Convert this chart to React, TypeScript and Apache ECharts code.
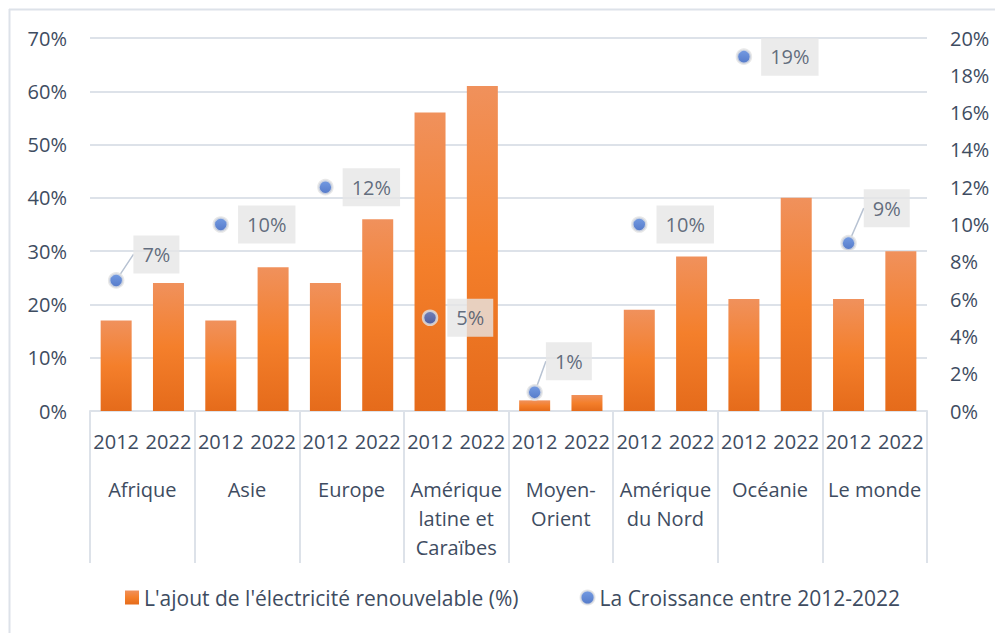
import React, { useEffect, useRef } from "react";
import * as echarts from "echarts";

const regions = [
  "Afrique",
  "Asie",
  "Europe",
  "Amérique\nlatine et\nCaraïbes",
  "Moyen-\nOrient",
  "Amérique\ndu Nord",
  "Océanie",
  "Le monde",
];
const years = ["2012", "2022"];
const share2012 = [17, 17, 24, 56, 2, 19, 21, 21];
const share2022 = [24, 27, 36, 61, 3, 29, 40, 30];
const growth = [7, 10, 12, 5, 1, 10, 19, 9];
const leftTicks = { min: 0, max: 70, interval: 10 };
const rightTicks = { min: 0, max: 20, interval: 2 };
const barName = "L'ajout de l'électricité renouvelable (%)";
const dotName = "La Croissance entre 2012-2022";

// label offsets (style only) for labels with leader lines
const labelShift: Record<number, [number, number]> = {
  0: [0, -26],
  4: [-6, -31],
  7: [-2, -35],
};

const TEXT = "#3e4c61";
const FONT = "Open Sans";
const GRID = "#dde2e9";

export default function App() {
  const ref = useRef<HTMLDivElement>(null);
  useEffect(() => {
    if (!ref.current) return;
    const chart = echarts.init(ref.current, undefined, { renderer: "svg" });

    const cats: string[] = [];
    const barVals: number[] = [];
    regions.forEach((r, i) => {
      cats.push(r + "|" + years[0]);
      barVals.push(share2012[i]);
      cats.push(r + "|" + years[1]);
      barVals.push(share2022[i]);
    });
    const dotData = growth.map((g, i) => {
      const item: any = { value: [i * 2, g] };
      if (labelShift[i]) item.labelLine = { show: true };
      return item;
    });

    const barColor = new echarts.graphic.LinearGradient(0, 0, 0, 1, [
      { offset: 0, color: "#f0915c" },
      { offset: 0.5, color: "#f47f2b" },
      { offset: 1, color: "#e56b1b" },
    ]);
    const dotColor = new echarts.graphic.LinearGradient(0, 0, 0, 1, [
      { offset: 0, color: "#5283dc" },
      { offset: 1, color: "#2a58bb" },
    ]);

    chart.setOption({
      animation: false,
      textStyle: { fontFamily: FONT },
      graphic: [
        {
          type: "line",
          shape: { x1: 9.5, y1: 9, x2: 9.5, y2: 640 },
          style: { stroke: "#dde2e9", lineWidth: 2 },
        },
        {
          type: "line",
          shape: { x1: 9, y1: 9.5, x2: 1000, y2: 9.5 },
          style: { stroke: "#dde2e9", lineWidth: 2 },
        },
      ],
      grid: { left: 90, right: 68, top: 38, bottom: 222 },
      legend: {
        bottom: 20,
        left: 120,
        itemGap: 61,
        itemWidth: 14,
        itemHeight: 14,
        textStyle: { color: TEXT, fontSize: 21, fontFamily: FONT },
        data: [
          { name: barName, icon: "rect" },
          { name: dotName, icon: "circle" },
        ],
      },
      xAxis: [
        {
          type: "category",
          data: cats,
          position: "bottom",
          axisLine: { show: true, lineStyle: { color: GRID, width: 2 } },
          axisTick: { show: false },
          axisLabel: {
            color: TEXT,
            fontSize: 20,
            fontFamily: FONT,
            margin: 20,
            lineHeight: 20,
            interval: 0,
            formatter: (v: string) => v.split("|")[1],
          },
        },
        {
          type: "category",
          data: regions,
          position: "bottom",
          axisLine: { show: false },
          axisTick: {
            show: true,
            interval: 0,
            length: 152,
            lineStyle: { color: GRID, width: 2 },
          },
          axisLabel: {
            color: TEXT,
            fontSize: 20,
            fontFamily: FONT,
            margin: 64,
            lineHeight: 29,
            interval: 0,
          },
        },
      ],
      yAxis: [
        {
          type: "value",
          ...leftTicks,
          axisLine: { show: false },
          axisTick: { show: false },
          splitLine: { lineStyle: { color: GRID, width: 2 } },
          axisLabel: {
            color: TEXT,
            fontSize: 20,
            fontFamily: FONT,
            margin: 23,
            formatter: "{value}%",
          },
        },
        {
          type: "value",
          ...rightTicks,
          position: "right",
          axisLine: { show: false },
          axisTick: { show: false },
          splitLine: { show: false },
          axisLabel: {
            color: TEXT,
            fontSize: 20,
            fontFamily: FONT,
            margin: 23,
            formatter: "{value}%",
          },
        },
      ],
      series: [
        {
          name: barName,
          type: "bar",
          xAxisIndex: 0,
          yAxisIndex: 0,
          data: barVals,
          barWidth: 31,
          itemStyle: { color: barColor },
        },
        {
          name: dotName,
          type: "scatter",
          xAxisIndex: 0,
          yAxisIndex: 1,
          data: dotData,
          symbolSize: 14,
          z: 5,
          itemStyle: { color: dotColor, borderColor: "#e2e2e2", borderWidth: 2.5 },
          label: {
            show: true,
            position: "right",
            distance: 9,
            color: TEXT,
            fontSize: 20,
            fontFamily: FONT,
            lineHeight: 22,
            backgroundColor: "#e6e6e6",
            padding: [8, 9],
            formatter: (p: any) => p.value[1] + "%",
          },
          labelLine: {
            show: false,
            lineStyle: { color: "#b7c2d2", width: 1.5 },
          },
          labelLayout: (p: any) => {
            const s = labelShift[p.dataIndex];
            return s ? { dx: s[0], dy: s[1] } : {};
          },
        },
      ],
    });
    return () => chart.dispose();
  }, []);
  return (
    <div
      ref={ref}
      style={{ position: "fixed", left: 0, top: 0, width: 995, height: 633, background: "#fff" }}
    />
  );
}
